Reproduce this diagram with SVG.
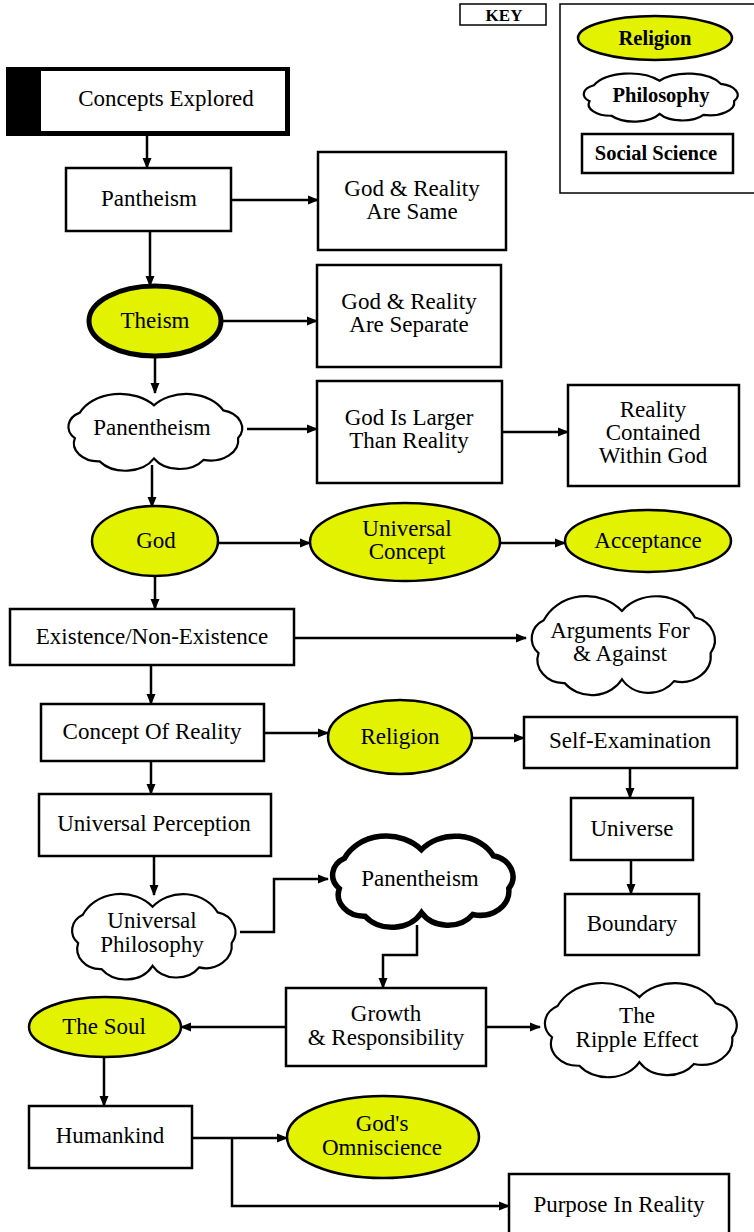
<svg xmlns="http://www.w3.org/2000/svg" width="754" height="1232" viewBox="0 0 754 1232">
<style>
text{font-family:"Liberation Serif","DejaVu Serif",serif;font-size:23px;fill:#000;text-anchor:middle}
.k{font-weight:bold;font-size:20.5px}
.box{fill:#fff;stroke:#000;stroke-width:2.5}
.rel{fill:#e2f200;stroke:#000;stroke-width:2.5}
.cl{fill:#fff;stroke:#000;stroke-width:2.2}
.clt{fill:#fff;stroke:#000;stroke-width:5.5}
.ln{fill:none;stroke:#000;stroke-width:2.5;marker-end:url(#ah)}
</style>
<defs>
<marker id="ah" markerUnits="userSpaceOnUse" markerWidth="11" markerHeight="10" refX="10" refY="5" orient="auto">
<path d="M0,0.5 L11,5 L0,9.5 Z" fill="#000"/>
</marker>
<symbol id="cloud" viewBox="8 -2 186 110" preserveAspectRatio="none" overflow="visible">
<path vector-effect="non-scaling-stroke" d="M20,60 A22,22 0 0 1 25,25 A45,45 0 0 1 100,15 A42,42 0 0 1 170,22 A25,25 0 0 1 185,60 A28,28 0 0 1 150,90 A30,30 0 0 1 100,88 A33,33 0 0 1 45,92 A25,25 0 0 1 20,60 Z"/>
</symbol>
</defs>

<g id="key">
<rect x="460" y="4" width="86" height="21" fill="#fff" stroke="#000" stroke-width="1.5"/>
<text x="504" y="21" class="k" style="font-size:17px">KEY</text>
<rect x="560" y="4" width="200" height="189" fill="#fff" stroke="#000" stroke-width="1.5"/>
<ellipse cx="655" cy="38" rx="77" ry="22" class="rel"/>
<text x="655" y="45" class="k">Religion</text>
<use href="#cloud" x="579" y="73" width="163" height="50" class="cl"/>
<text x="661" y="102" class="k">Philosophy</text>
<rect x="582" y="134" width="151" height="39" class="box"/>
<text x="656" y="160" class="k">Social Science</text>
</g>

<g id="connectors">
<path class="ln" d="M147,136 V168"/>
<path class="ln" d="M231,200 H318"/>
<path class="ln" d="M150,231 V286"/>
<path class="ln" d="M221,321 H317"/>
<path class="ln" d="M155,356 V393"/>
<path class="ln" d="M247,429 H317"/>
<path class="ln" d="M502,432 H568"/>
<path class="ln" d="M152,465 V507"/>
<path class="ln" d="M218,543 H310"/>
<path class="ln" d="M500,543 H565"/>
<path class="ln" d="M155,575 V609"/>
<path class="ln" d="M294,638 H526"/>
<path class="ln" d="M151,665 V704"/>
<path class="ln" d="M264,733 H328"/>
<path class="ln" d="M472,738 H524"/>
<path class="ln" d="M151,761 V794"/>
<path class="ln" d="M630,768 V798"/>
<path class="ln" d="M631,860 V894"/>
<path class="ln" d="M154,856 V895"/>
<path class="ln" d="M240,932 H274 V879 H328"/>
<path class="ln" d="M417,925 V955 H383 V988"/>
<path class="ln" d="M286,1027 H181"/>
<path class="ln" d="M486,1027 H540"/>
<path class="ln" d="M104,1057 V1106"/>
<path class="ln" d="M192,1138 H287"/>
<path class="ln" d="M232,1138 V1206 H509"/>
</g>

<g id="concepts-explored">
<rect x="6" y="67" width="284" height="69" fill="#000"/>
<rect x="41" y="71" width="244" height="60" fill="#fff"/>
<text x="166" y="106">Concepts Explored</text>
</g>
<g id="pantheism">
<rect x="66" y="168" width="165" height="63" class="box"/>
<text x="149" y="206">Pantheism</text>
</g>
<g id="same">
<rect x="318" y="152" width="188" height="98" class="box"/>
<text x="412" y="196">God &amp; Reality</text>
<text x="412" y="219">Are Same</text>
</g>
<g id="theism">
<ellipse cx="155" cy="321" rx="66" ry="35" class="rel" style="stroke-width:5"/>
<text x="155" y="328">Theism</text>
</g>
<g id="separate">
<rect x="317" y="265" width="184" height="102" class="box"/>
<text x="409" y="309">God &amp; Reality</text>
<text x="409" y="332">Are Separate</text>
</g>
<g id="panentheism1">
<use href="#cloud" x="63" y="393" width="184" height="80" class="cl"/>
<text x="152" y="435">Panentheism</text>
</g>
<g id="larger">
<rect x="317" y="381" width="185" height="102" class="box"/>
<text x="409" y="425">God Is Larger</text>
<text x="409" y="448">Than Reality</text>
</g>
<g id="contained">
<rect x="568" y="385" width="171" height="101" class="box"/>
<text x="653" y="417">Reality</text>
<text x="653" y="440">Contained</text>
<text x="653" y="463">Within God</text>
</g>
<g id="god">
<ellipse cx="155" cy="541" rx="63" ry="35" class="rel"/>
<text x="156" y="548">God</text>
</g>
<g id="universal-concept">
<ellipse cx="405" cy="542" rx="95" ry="39" class="rel"/>
<text x="407" y="536">Universal</text>
<text x="407" y="559">Concept</text>
</g>
<g id="acceptance">
<ellipse cx="648" cy="541" rx="83" ry="31" class="rel"/>
<text x="648" y="548">Acceptance</text>
</g>
<g id="existence">
<rect x="10" y="609" width="284" height="56" class="box"/>
<text x="152" y="644">Existence/Non-Existence</text>
</g>
<g id="arguments">
<use href="#cloud" x="526" y="595" width="194" height="103" class="cl"/>
<text x="620" y="638">Arguments For</text>
<text x="620" y="661">&amp; Against</text>
</g>
<g id="concept-reality">
<rect x="41" y="704" width="223" height="57" class="box"/>
<text x="152" y="739">Concept Of Reality</text>
</g>
<g id="religion">
<ellipse cx="400" cy="737" rx="72" ry="37" class="rel"/>
<text x="400" y="744">Religion</text>
</g>
<g id="self-exam">
<rect x="524" y="717" width="213" height="51" class="box"/>
<text x="630" y="748">Self-Examination</text>
</g>
<g id="universal-perception">
<rect x="39" y="794" width="232" height="62" class="box"/>
<text x="154" y="831">Universal Perception</text>
</g>
<g id="universe">
<rect x="571" y="798" width="122" height="62" class="box"/>
<text x="632" y="836">Universe</text>
</g>
<g id="boundary">
<rect x="565" y="894" width="134" height="61" class="box"/>
<text x="632" y="931">Boundary</text>
</g>
<g id="universal-philosophy">
<use href="#cloud" x="67" y="893" width="173" height="89" class="cl"/>
<text x="152" y="928">Universal</text>
<text x="152" y="952">Philosophy</text>
</g>
<g id="panentheism2">
<use href="#cloud" x="327" y="835" width="191" height="95" class="clt"/>
<text x="420" y="886">Panentheism</text>
</g>
<g id="growth">
<rect x="286" y="988" width="200" height="78" class="box"/>
<text x="386" y="1021">Growth</text>
<text x="386" y="1045">&amp; Responsibility</text>
</g>
<g id="soul">
<ellipse cx="105" cy="1027" rx="76" ry="30" class="rel"/>
<text x="104" y="1034">The Soul</text>
</g>
<g id="ripple">
<use href="#cloud" x="539" y="982" width="203" height="98" class="cl"/>
<text x="637" y="1023">The</text>
<text x="637" y="1047">Ripple Effect</text>
</g>
<g id="humankind">
<rect x="29" y="1106" width="163" height="62" class="box"/>
<text x="110" y="1143">Humankind</text>
</g>
<g id="omniscience">
<ellipse cx="383" cy="1137" rx="96" ry="41" class="rel"/>
<text x="382" y="1131">God's</text>
<text x="382" y="1155">Omniscience</text>
</g>
<g id="purpose">
<rect x="509" y="1174" width="220" height="62" class="box"/>
<text x="619" y="1212">Purpose In Reality</text>
</g>
</svg>
